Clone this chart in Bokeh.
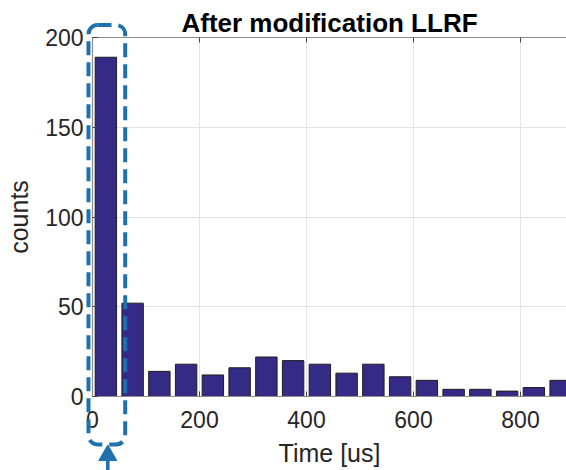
from bokeh.plotting import figure
from bokeh.models import Range1d, LinearAxis, BoxAnnotation, FixedTicker, GridBox, Column
from bokeh.embed import file_html
from bokeh.resources import INLINE

# data
bin_centers = [25, 75, 125, 175, 225, 275, 325, 375, 425, 475, 525, 575, 625, 675, 725, 775, 825, 875]
counts = [189, 52, 14, 18, 12, 16, 22, 20, 18, 13, 18, 11, 9, 4, 4, 3, 5, 9]
x_ticks = [0, 200, 400, 600, 800]
y_ticks = [0, 50, 100, 150, 200]
title_text = "After modification LLRF"
x_label = "Time [us]"
y_label = "counts"

FONT = "Liberation Sans"
TXT = "#262626"
AX = "#8c8c8c"
BLUE = "#1f70ae"

W, H = 566, 470
BL, BR, BT, BB = 92, 0, 37, 74
X0, X1 = 0, 886
Y0, Y1 = 0, 200

p = figure(width=W, height=H, output_backend="svg", toolbar_location=None,
           x_range=Range1d(X0, X1), y_range=Range1d(Y0, Y1),
           min_border_left=BL, min_border_right=BR, min_border_top=BT, min_border_bottom=BB,
           x_axis_label=x_label, y_axis_label=y_label)
p.outline_line_color = None
p.background_fill_color = "white"
p.border_fill_color = "white"

p.vbar(x=bin_centers, top=counts, width=40, bottom=0,
       fill_color="#352a86", line_color="#1e1e1e", line_width=1)

p.title.text = title_text
p.title.text_font = FONT
p.title.text_font_size = "26px"
p.title.text_font_style = "bold"
p.title.text_color = "#000000"
p.title.align = "center"
p.title.standoff = 0

for ax in (p.xaxis[0], p.yaxis[0]):
    ax.axis_line_color = AX
    ax.axis_line_width = 1.2
    ax.major_tick_line_color = "#444444"
    ax.major_tick_in = 5
    ax.major_tick_out = 0
    ax.minor_tick_line_color = None
    ax.major_label_text_font = FONT
    ax.major_label_text_font_size = "23px"
    ax.major_label_text_color = TXT
    ax.axis_label_text_font = FONT
    ax.axis_label_text_font_size = "25px"
    ax.axis_label_text_font_style = "normal"
    ax.axis_label_text_color = TXT

p.xaxis[0].ticker = FixedTicker(ticks=x_ticks)
p.yaxis[0].ticker = FixedTicker(ticks=y_ticks)
p.xaxis[0].major_label_standoff = 14
p.xaxis[0].axis_label_standoff = 8
p.yaxis[0].major_label_standoff = 9
p.yaxis[0].axis_label_standoff = 9

top_ax = LinearAxis(ticker=FixedTicker(ticks=x_ticks))
top_ax.axis_line_color = AX
top_ax.axis_line_width = 1.2
top_ax.major_tick_line_color = "#444444"
top_ax.major_tick_in = 5
top_ax.major_tick_out = 0
top_ax.minor_tick_line_color = None
top_ax.major_label_overrides = {t: "" for t in x_ticks}
top_ax.major_label_standoff = 0
p.add_layout(top_ax, "above")

p.xgrid.ticker = FixedTicker(ticks=x_ticks)
p.ygrid.ticker = FixedTicker(ticks=y_ticks)
p.xgrid.grid_line_color = "#e3e3e3"
p.ygrid.grid_line_color = "#e3e3e3"

# transparent overlay covering the whole canvas, same data scale as the main frame
sx = (W - BL - BR) / (X1 - X0)
sy = (H - BT - BB) / (Y1 - Y0)
ov = figure(width=W, height=H, output_backend="svg", toolbar_location=None,
            x_range=Range1d(X0 - BL / sx, X1 + BR / sx),
            y_range=Range1d(Y0 - BB / sy, Y1 + BT / sy),
            min_border=0, x_axis_type=None, y_axis_type=None)
ov.outline_line_color = None
ov.background_fill_color = None
ov.border_fill_color = None
ov.grid.visible = False

# highlight of the first bin
hl_left, hl_right, hl_top, hl_bottom = -7.5, 61.1, 206.9, -26.7
box = BoxAnnotation(left=hl_left, right=hl_right, top=hl_top, bottom=hl_bottom,
                    fill_alpha=0, fill_color=None, line_color=BLUE, line_alpha=1.0,
                    line_width=4, line_dash="14 7", border_radius=9)
ov.add_layout(box)

arrow_x = 28.6
ov.segment(x0=[arrow_x], y0=[-33.0], x1=[arrow_x], y1=[Y0 - BB / sy],
           line_color=BLUE, line_width=3.5)
ov.scatter(x=[arrow_x], y=[-32.8], marker="triangle", size=18,
           fill_color=BLUE, line_color=BLUE, line_width=1)

layout = GridBox(children=[(Column(children=[p]), 0, 0), (Column(children=[ov]), 0, 0)])

open("out.html", "w").write(file_html(layout, INLINE))
